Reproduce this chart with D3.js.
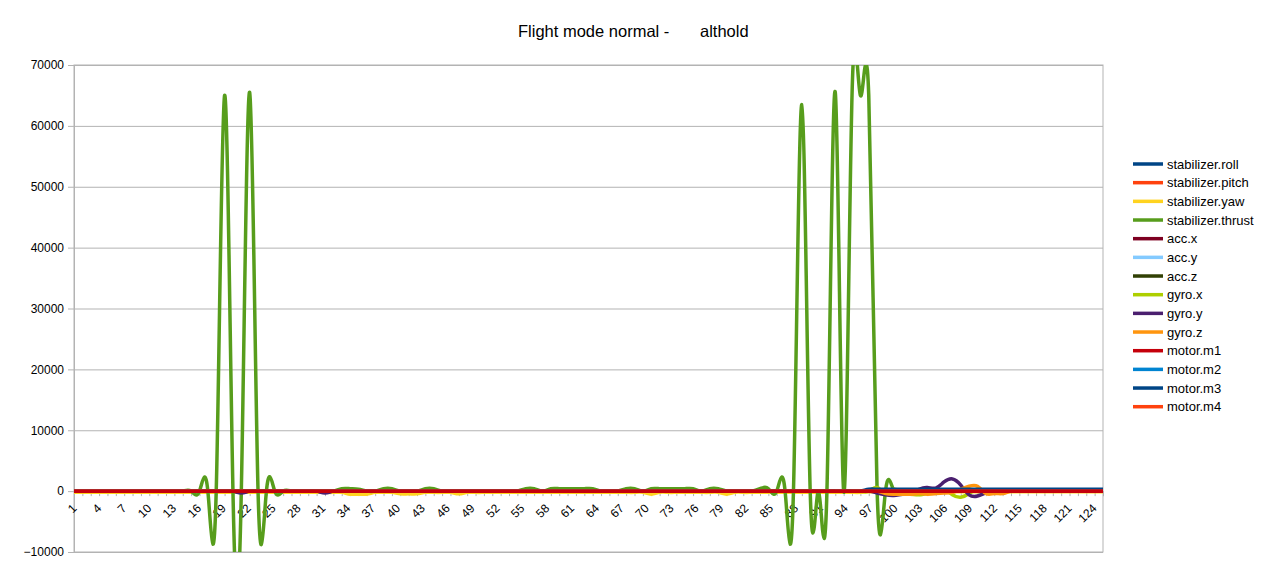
<!DOCTYPE html>
<html>
<head>
<meta charset="utf-8">
<script src="https://d3js.org/d3.v7.min.js"></script>
<style>
  body { margin: 0; background: #fff; }
  svg { font-family: "Liberation Sans", Arial, sans-serif; }
</style>
</head>
<body>
<svg width="1267" height="571"></svg>
<script>
var categories = [
    1, 2, 3, 4, 5, 6, 7, 8, 9, 10, 11, 12, 13, 14, 15, 16, 17, 18, 19, 20,
    21, 22, 23, 24, 25, 26, 27, 28, 29, 30, 31, 32, 33, 34, 35, 36, 37, 38, 39, 40,
    41, 42, 43, 44, 45, 46, 47, 48, 49, 50, 51, 52, 53, 54, 55, 56, 57, 58, 59, 60,
    61, 62, 63, 64, 65, 66, 67, 68, 69, 70, 71, 72, 73, 74, 75, 76, 77, 78, 79, 80,
    81, 82, 83, 84, 85, 86, 87, 88, 89, 90, 91, 92, 93, 94, 95, 96, 97, 98, 99, 100,
    101, 102, 103, 104, 105, 106, 107, 108, 109, 110, 111, 112, 113, 114, 115, 116, 117, 118, 119, 120,
    121, 122, 123, 124];

var xTickLabels = [1, 4, 7, 10, 13, 16, 19, 22, 25, 28, 31, 34, 37, 40, 43, 46, 49, 52, 55, 58, 61,
    64, 67, 70, 73, 76, 79, 82, 85, 88, 91, 94, 97, 100, 103, 106, 109, 112, 115, 118, 121, 124];

var yTicks = [-10000, 0, 10000, 20000, 30000, 40000, 50000, 60000, 70000];

// one value per category (1..124)
var roll = [
    0, 0, 0, 0, 0, 0, 0, 0, 0, 0,  0, 0, 0, 0, 0, 0, 0, 0, 0, 0,
    0, 0, 0, 0, 0, 0, 0, 0, 0, 0,  0, 0, 0, 0, 0, 0, 0, 0, 0, 0,
    0, 0, 0, 0, 0, 0, 0, 0, 0, 0,  0, 0, 0, 0, 0, 0, 0, 0, 0, 0,
    0, 0, 0, 0, 0, 0, 0, 0, 0, 0,  0, 0, 0, 0, 0, 0, 0, 0, 0, 0,
    0, 0, 0, 0, 0, 0, 0, 0, 0, 0,  0, 0, 0, 0, 0, 0, 0, 0, 0, 0,
    0, 0, 0, 0, 0, 0, 0, 0, 0, 0,  0, 0, 0, 0, 0, 0, 0, 0, 0, 0,
    0, 0, 0, 0];
var pitch = [
    0, 0, 0, 0, 0, 0, 0, 0, 0, 0,  0, 0, 0, 0, 0, 0, 0, 0, 0, 0,
    0, 0, 0, 0, 0, 0, 0, 0, 0, 0,  0, 0, 0, 0, 0, 0, 0, 0, 0, 0,
    0, 0, 0, 0, 0, 0, 0, 0, 0, 0,  0, 0, 0, 0, 0, 0, 0, 0, 0, 0,
    0, 0, 0, 0, 0, 0, 0, 0, 0, 0,  0, 0, 0, 0, 0, 0, 0, 0, 0, 0,
    0, 0, 0, 0, 0, 0, 0, 0, 0, 0,  0, 0, 0, 0, 0, 0, 0, 0, 0, 0,
    0, 0, 0, 0, 0, 0, 0, 0, 0, 0,  0, 0, 0, 0, 0, 0, 0, 0, 0, 0,
    0, 0, 0, 0];
var yaw = [
    -200, -200, -200, -200, -200, -200, -200, -200, -200, -200,  -200, -200, -200, -200, -200, -200, -200, -200, -200, -200,
    -200, -200, -200, -200, -200, -200, -200, -200, -200, -200,  -200, -200, -200, -500, -500, -500, -200, -200, -200, -450,
    -450, -450, -200, -200, -200, -200, -450, -200, -200, -200,  -200, -200, -200, -200, -200, -200, -200, -200, -200, -200,
    -200, -200, -200, -200, -200, -200, -200, -200, -200, -500,  -200, -200, -200, -200, -200, -200, -200, -200, -500, -200,
    -200, -200, -200, -200, -200, -200, -200, -200, -200, -200,  -200, -200, -200, -200, -200, -100, -100, -100, -100, -100,
    -100, -100, -100, -100, -100, -100, -100, -100, -100, -100,  -100, -100, -100, -100, -100, -100, -100, -100, -100, -100,
    -100, -100, -100, -100];
var thrust = [
    0, 0, 0, 0, 0, 0, 0, 0, 0, 0,  0, 0, 0, 0, 0, 0, 0, 0, 65000, 0,
    0, 65500, 0, 0, 0, 0, 0, 0, 0, 0,  0, 0, 400, 400, 300, 0, 0, 400, 400, 0,
    0, 0, 400, 400, 0, 0, 0, 0, 0, 0,  0, 0, 0, 0, 400, 400, 0, 400, 400, 400,
    400, 400, 400, 0, 0, 0, 400, 400, 0, 400,  400, 400, 400, 400, 400, 0, 400, 400, 0, 0,
    0, 0, 400, 400, 0, 0, 0, 63500, 0, 0,  0, 65500, 0, 65000, 65000, 65000, 0, 0, 0, 0,
    0, 0, 0, 0, 0, 0, 0, 0, 0, 0,  0, 0, 0, 0, 0, 0, 0, 0, 0, 0,
    0, 0, 0, 0];
var accX = [
    0, 0, 0, 0, 0, 0, 0, 0, 0, 0,  0, 0, 0, 0, 0, 0, 0, 0, 0, 0,
    0, 0, 0, 0, 0, 0, 0, 0, 0, 0,  0, 0, 0, 0, 0, 0, 0, 0, 0, 0,
    0, 0, 0, 0, 0, 0, 0, 0, 0, 0,  0, 0, 0, 0, 0, 0, 0, 0, 0, 0,
    0, 0, 0, 0, 0, 0, 0, 0, 0, 0,  0, 0, 0, 0, 0, 0, 0, 0, 0, 0,
    0, 0, 0, 0, 0, 0, 0, 0, 0, 0,  0, 0, 0, 0, 0, 0, 0, 0, 0, 0,
    0, 0, 0, 0, 0, 0, 0, 0, 0, 0,  0, 0, 0, 0, 0, 0, 0, 0, 0, 0,
    0, 0, 0, 0];
var accY = accX.slice();
var accZ = accX.slice();
var gyroX = [
    0, 0, 0, 0, 0, 0, 0, 0, 0, 0,  0, 0, 0, 0, 0, 0, 0, 0, 0, 0,
    0, 0, 0, 0, 0, 0, 0, 0, 0, 0,  0, 0, 0, 0, 0, 0, 0, 0, 0, 0,
    0, 0, 0, 0, 0, 0, 0, 0, 0, 0,  0, 0, 0, 0, 0, 0, 0, 0, 0, 0,
    0, 0, 0, 0, 0, 0, 0, 0, 0, 0,  0, 0, 0, 0, 0, 0, 0, 0, 0, 0,
    0, 0, 0, 0, 0, 0, 0, 0, 0, 0,  0, 0, 0, 0, 0, 0, 600, -400, 300, -300,
    -500, -600, -400, -300, 200, -600, -1000, -400, 300, -200,  0, 0, 0, 0, 0, 0, 0, 0, 0, 0,
    0, 0, 0, 0];
var gyroY = [
    0, 0, 0, 0, 0, 0, 0, 0, 0, 0,  0, 0, 0, 0, 0, 0, 0, 0, 0, 0,
    -300, 0, 0, 0, 0, 0, 0, 0, 0, 0,  -300, 0, 0, 0, 0, 0, 0, 0, 0, 0,
    0, 0, 0, 0, 0, 0, 0, 0, 0, 0,  0, 0, 0, 0, 0, 0, 0, 0, 0, 0,
    0, 0, 0, 0, 0, 0, 0, 0, 0, 0,  0, 0, 0, 0, 0, 0, 0, 0, 0, 0,
    0, 0, 0, 0, 0, 0, 0, 0, 0, 0,  0, 0, 0, 0, 0, 0, -300, -600, -700, -500,
    -300, 300, 600, 500, 1500, 2000, 1000, -600, -800, -300,  0, 0, 0, 0, 0, 0, 0, 0, 0, 0,
    0, 0, 0, 0];
var gyroZ = [
    0, 0, 0, 0, 0, 0, 0, 0, 0, 0,  0, 0, 0, 0, 0, 0, 0, 0, 0, 0,
    0, 0, 0, 0, 0, 0, 0, 0, 0, 0,  0, 0, 0, 0, 0, 0, 0, 0, 0, 0,
    0, 0, 0, 0, 0, 0, 0, 0, 0, 0,  0, 0, 0, 0, 0, 0, 0, 0, 0, 0,
    0, 0, 0, 0, 0, 0, 0, 0, 0, 0,  0, 0, 0, 0, 0, 0, 0, 0, 0, 0,
    0, 0, 0, 0, 0, 0, 0, 0, 0, 0,  0, 0, 0, 0, 0, 0, 0, -400, -500, -500,
    -500, -400, -500, -400, -300, -200, 300, 800, 800, -400,  -400, -400, 0, 0, 0, 0, 0, 0, 0, 0,
    0, 0, 0, 0];
var motorM1 = accX.slice();
var motorM2 = accX.slice();
var motorM3 = [
    0, 0, 0, 0, 0, 0, 0, 0, 0, 0,  0, 0, 0, 0, 0, 0, 0, 0, 0, 0,
    0, 0, 0, 0, 0, 0, 0, 0, 0, 0,  0, 0, 0, 0, 0, 0, 0, 0, 0, 0,
    0, 0, 0, 0, 0, 0, 0, 0, 0, 0,  0, 0, 0, 0, 0, 0, 0, 0, 0, 0,
    0, 0, 0, 0, 0, 0, 0, 0, 0, 0,  0, 0, 0, 0, 0, 0, 0, 0, 0, 0,
    0, 0, 0, 0, 0, 0, 0, 0, 0, 0,  0, 0, 0, 0, 0, 300, 300, 300, 300, 300,
    300, 300, 300, 300, 300, 300, 300, 300, 300, 300,  300, 300, 300, 300, 300, 300, 300, 300, 300, 300,
    300, 300, 300, 300];
var motorM4 = accX.slice();

var seriesNames = ["stabilizer.roll", "stabilizer.pitch", "stabilizer.yaw", "stabilizer.thrust",
    "acc.x", "acc.y", "acc.z", "gyro.x", "gyro.y", "gyro.z",
    "motor.m1", "motor.m2", "motor.m3", "motor.m4"];
var seriesValues = [roll, pitch, yaw, thrust, accX, accY, accZ, gyroX, gyroY, gyroZ,
    motorM1, motorM2, motorM3, motorM4];
var seriesColors = ["#004586", "#ff420e", "#ffd320", "#579d1c", "#7e0021", "#83caff", "#314004",
    "#aecf00", "#4b1f6f", "#ff950e", "#c5000b", "#0084d1", "#004586", "#ff420e"];

var svg = d3.select("svg");
var plotL = 74, plotR = 1103, plotT = 65, plotB = 552;

var x = d3.scaleLinear().domain([1, 124]).range([plotL, plotR]);
var y = d3.scaleLinear().domain([-10000, 70000]).range([plotB, plotT]);
// the category labels sit on a slightly tighter spacing than the data points
var xLabel = d3.scaleLinear().domain([1, 124]).range([74, 1094]);

// grid
svg.append("g")
    .attr("transform", "translate(" + plotL + ",0)")
    .call(d3.axisLeft(y).tickValues(yTicks).tickSize(-(plotR - plotL)).tickFormat(""))
    .call(function (g) {
        g.select(".domain").remove();
        g.selectAll("line").attr("stroke", "#b3b3b3");
    });

// frame
svg.append("rect")
    .attr("x", plotL).attr("y", plotT)
    .attr("width", plotR - plotL).attr("height", plotB - plotT)
    .attr("fill", "none").attr("stroke", "#b3b3b3");

// y axis
svg.append("g")
    .attr("transform", "translate(" + plotL + ",0)")
    .call(d3.axisLeft(y).tickValues(yTicks).tickSize(6).tickPadding(4).tickFormat(d3.format("d")))
    .call(function (g) {
        g.select(".domain").attr("stroke", "#b3b3b3");
        g.selectAll("line").attr("stroke", "#b3b3b3");
        g.selectAll("text").attr("font-size", "12px").attr("fill", "#000")
            .attr("font-family", "Liberation Sans, Arial, sans-serif");
    });

// x axis on the zero line: ticks
var xAxis = svg.append("g")
    .attr("transform", "translate(0," + y(0) + ")")
    .call(d3.axisBottom(x).tickValues(categories).tickSize(5).tickFormat(""));
xAxis.select(".domain").attr("stroke", "#b3b3b3");
xAxis.selectAll("line").attr("stroke", "#b3b3b3");

// x axis labels, rotated
var xLabels = svg.append("g")
    .attr("transform", "translate(0," + (y(0) + 15) + ")")
    .call(d3.axisBottom(xLabel).tickValues(xTickLabels).tickSize(0).tickPadding(0));
xLabels.select(".domain").remove();
xLabels.selectAll("text")
    .attr("font-size", "12px").attr("fill", "#000")
    .attr("font-family", "Liberation Sans, Arial, sans-serif")
    .attr("text-anchor", "end")
    .attr("x", 0).attr("y", 0).attr("dy", "0.35em")
    .attr("transform", "rotate(-45)");

// series
svg.append("clipPath").attr("id", "plot")
    .append("rect")
    .attr("x", plotL).attr("y", plotT)
    .attr("width", plotR - plotL).attr("height", plotB - plotT);

var line = d3.line()
    .x(function (d, i) { return x(categories[i]); })
    .y(function (d) { return y(d); })
    .curve(d3.curveNatural);

var order = d3.range(seriesNames.length).filter(function (i) { return i !== 10; }).concat([10]);

svg.append("g")
    .attr("clip-path", "url(#plot)")
    .selectAll("path")
    .data(order)
    .enter().append("path")
    .attr("d", function (i) { return line(seriesValues[i]); })
    .attr("fill", "none")
    .attr("stroke", function (i) { return seriesColors[i]; })
    .attr("stroke-width", 3.5)
    .attr("stroke-linejoin", "round");

// legend
var legend = svg.append("g")
    .selectAll("g")
    .data(seriesNames)
    .enter().append("g")
    .attr("transform", function (d, i) { return "translate(1133," + (164 + i * 18.67) + ")"; });

legend.append("line")
    .attr("x1", 0).attr("x2", 30)
    .attr("stroke", function (d, i) { return seriesColors[i]; })
    .attr("stroke-width", 3.5);

legend.append("text")
    .attr("x", 34).attr("dy", "0.35em")
    .attr("font-size", "13px")
    .text(function (d) { return d; });

// title (part of it is blanked in the original)
svg.append("text")
    .attr("x", 518).attr("y", 37)
    .attr("font-size", "16.5px")
    .text("Flight mode normal -");
svg.append("text")
    .attr("x", 700).attr("y", 37)
    .attr("font-size", "16.5px")
    .text("althold");
</script>
</body>
</html>
